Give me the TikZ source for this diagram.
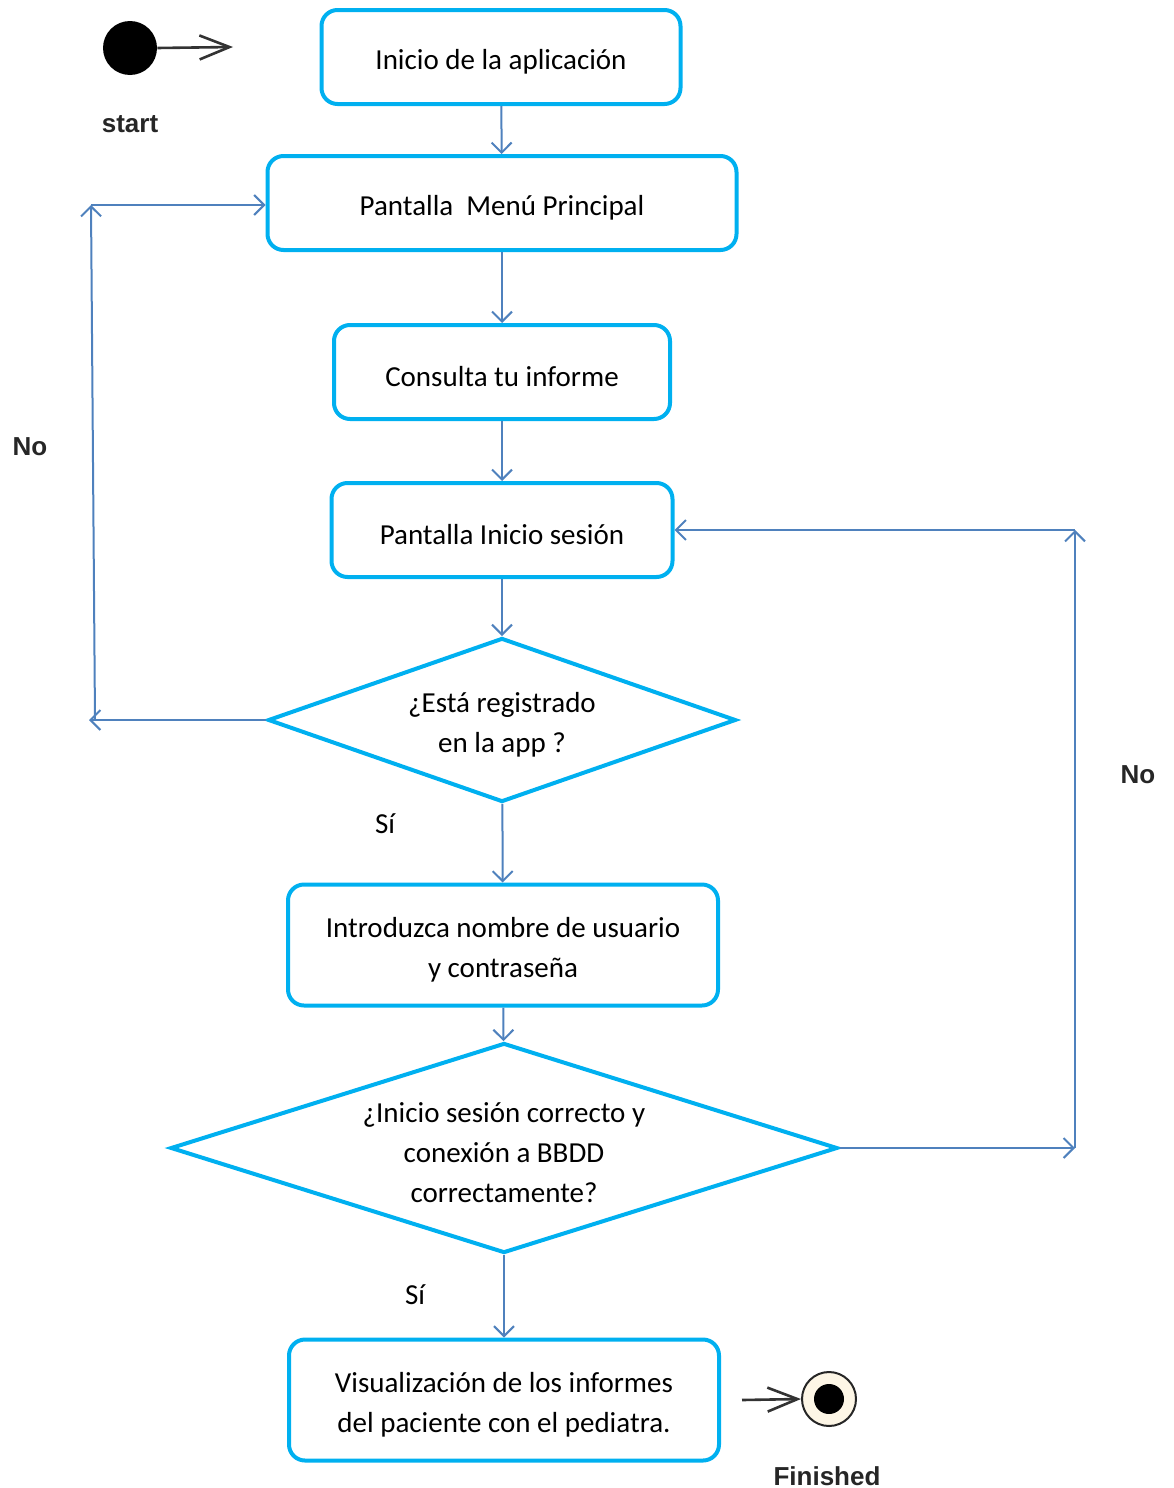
\documentclass[tikz,border=0pt]{standalone}
\usepackage{fontspec}
\setmainfont{Carlito}
\newfontfamily\labelfont{Liberation Sans}
\usetikzlibrary{shapes.geometric,arrows.meta}
\definecolor{boxcyan}{RGB}{0,176,240}
\definecolor{flowblue}{RGB}{79,129,189}
\definecolor{cream}{RGB}{253,246,230}
% invisible strut that sets the text a little lower inside its shape
\newcommand\txtstrut{\rule{0pt}{14.5pt}}
\begin{document}
\begin{tikzpicture}[x=0.5pt,y=-0.5pt,
  txt/.style={font=\fontsize{14.5}{20}\selectfont},
  stepbox/.style={draw=boxcyan,line width=2pt,rounded corners=8pt,fill=white,
    align=center,inner sep=0pt,txt},
  decision/.style={diamond,draw=boxcyan,line width=2pt,fill=white,align=center,
    inner sep=0pt,txt},
  flow/.style={draw=flowblue,line width=1pt,-{Straight Barb[length=5pt,width=10pt]}},
  umlarrow/.style={draw=black!80,line width=1.3pt,-{Straight Barb[length=15pt,width=12pt,line width=1.3pt]}},
  tag/.style={font=\labelfont\bfseries\fontsize{13}{15}\selectfont,text=black!85}
]
\useasboundingbox (0,0) rectangle (1173,1488);

% main flow
\node[stepbox,minimum width=179.5pt,minimum height=47pt] (init) at (501,57) {\txtstrut Inicio de la aplicación};
\node[stepbox,minimum width=234.5pt,minimum height=47pt] (menu) at (502,203) {\txtstrut Pantalla\ \ Menú Principal};
\node[stepbox,minimum width=168pt,minimum height=47pt] (report) at (502,372) {\txtstrut Consulta tu informe};
\node[stepbox,minimum width=170.5pt,minimum height=47pt] (login) at (502,530) {\txtstrut Pantalla Inicio sesión};
\node[decision,shape aspect=2.854,minimum width=234pt,minimum height=82pt] (reg) at (502,720) {\txtstrut ¿Está registrado\\en la app ?};
\node[stepbox,minimum width=215pt,minimum height=60.5pt] (cred) at (503,945) {\txtstrut Introduzca nombre de usuario\\y contraseña};
\node[decision,shape aspect=3.176,minimum width=333.5pt,minimum height=105pt] (ok) at (504,1148) {\txtstrut ¿Inicio sesión correcto y\\conexión a BBDD\\correctamente?};
\node[stepbox,minimum width=215pt,minimum height=60.5pt] (view) at (504,1400) {\txtstrut Visualización de los informes\\del paciente con el pediatra.};

\draw[flow] (init) -- (menu);
\draw[flow] (menu) -- (report);
\draw[flow] (report) -- (login);
\draw[flow] (login) -- (reg);
\draw[flow] (reg) -- (cred);
\draw[flow] (cred) -- (ok);
\draw[flow] (ok) -- (view);

% "No" loop back to the main menu
\coordinate (nlb) at (89,720);
\coordinate (nlv) at (95,720);
\coordinate (nlt) at (91,205);
\draw[flow] (reg.west) -- (nlb);
\draw[flow] (nlv) -- (nlt);
\draw[flow] (nlt) -- (menu.west |- nlt);

% "No" loop back to the login screen
\coordinate (nrb) at (1075,1148);
\coordinate (nrt) at (1075,530);
\draw[flow] (ok.east) -- (nrb);
\draw[flow] (nrb) -- (nrt);
\draw[flow] (nrt) -- (login.east |- nrt);

% initial state
\node[circle,fill=black,minimum size=27pt,inner sep=0pt] (start) at (130,48) {};
\coordinate (startend) at (233,47);
\draw[umlarrow] (start.east) -- (startend);
\node[tag] (startlbl) at (130,124) {start};

% final state
\node[circle,draw=black!85,line width=1pt,fill=cream,minimum size=27pt,inner sep=0pt] (final) at (829,1399) {};
\node[circle,fill=black,minimum size=15pt,inner sep=0pt] (finaldot) at (final.center) {};
\coordinate (finalin) at (742,1400);
\draw[umlarrow] (finalin) -- (final.west);
\node[tag] (finallbl) at (827,1476) {Finished};

% branch labels
\node[tag] (nol) at (30,447) {No};
\node[tag] (nor) at (1138,775) {No};
\node[txt] (si1) at (385,824) {Sí};
\node[txt] (si2) at (415,1295) {Sí};
\end{tikzpicture}
\end{document}
